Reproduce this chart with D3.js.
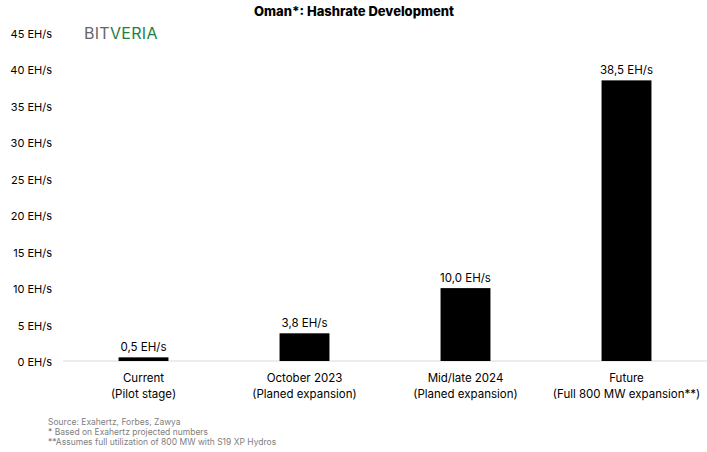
<!DOCTYPE html>
<html>
<head>
<meta charset="utf-8">
<script src="https://cdn.jsdelivr.net/npm/d3@7"></script>
<style>
  body { margin: 0; background: #fff; }
  text { font-family: Inter, "Open Sans", sans-serif; }
  .axis path, .axis line { display: none; }
</style>
</head>
<body>
<div id="chart"></div>
<script>
// chart data
let categories = ["Current", "October 2023", "Mid/late 2024", "Future"];
let subLabels = ["(Pilot stage)", "(Planed expansion)", "(Planed expansion)", "(Full 800 MW expansion**)"];
let hashrate = [0.5, 3.8, 10.0, 38.5];
let yTicks = [0, 5, 10, 15, 20, 25, 30, 35, 40, 45];
let notes = ["Source: Exahertz, Forbes, Zawya", "* Based on Exahertz projected numbers", "**Assumes full utilization of 800 MW with S19 XP Hydros"];

let width = 707;
let height = 452;
let padL = 63, padR = 707, padT = 33, padB = 361;

let svg = d3.select("#chart").append("svg")
  .attr("width", width)
  .attr("height", height);

let xScale = d3.scaleBand()
  .domain(categories)
  .range([padL, padR])
  .paddingInner(0.69)
  .paddingOuter(0.345);

let yScale = d3.scaleLinear()
  .domain([0, 45])
  .range([padB, padT]);

let yAxis = d3.axisLeft(yScale)
  .tickValues(yTicks)
  .tickSize(0)
  .tickPadding(0)
  .tickFormat(d => d + " EH/s");

svg.append("g")
  .attr("class", "axis")
  .attr("transform", "translate(52,1)")
  .call(yAxis)
  .selectAll("text")
  .attr("font-family", "Inter, 'Open Sans', sans-serif")
  .attr("font-size", 11)
  .attr("fill", "#000");

// baseline
svg.append("line")
  .attr("x1", padL).attr("x2", padR)
  .attr("y1", yScale(0)).attr("y2", yScale(0))
  .attr("stroke", "#d9d9d9")
  .attr("stroke-width", 1);

svg.selectAll("rect.bar")
  .data(hashrate)
  .enter()
  .append("rect")
  .attr("class", "bar")
  .attr("x", (d, i) => xScale(categories[i]))
  .attr("y", d => yScale(d))
  .attr("width", xScale.bandwidth())
  .attr("height", d => yScale(0) - yScale(d))
  .attr("fill", "#000");

svg.selectAll("text.val")
  .data(hashrate)
  .enter()
  .append("text")
  .attr("class", "val")
  .attr("x", (d, i) => xScale(categories[i]) + xScale.bandwidth() / 2)
  .attr("y", d => yScale(d) - 6)
  .attr("text-anchor", "middle")
  .attr("font-size", 11.5)
  .text(d => d.toFixed(1).replace(".", ",") + " EH/s");

let cat = svg.selectAll("text.cat")
  .data(categories)
  .enter()
  .append("text")
  .attr("class", "cat")
  .attr("text-anchor", "middle")
  .attr("font-size", 11.5)
  .attr("x", d => xScale(d) + xScale.bandwidth() / 2)
  .attr("y", 382);
cat.append("tspan").text(d => d);
cat.append("tspan")
  .attr("x", d => xScale(d) + xScale.bandwidth() / 2)
  .attr("dy", 15.5)
  .text((d, i) => subLabels[i]);

// title
svg.append("text")
  .attr("x", 354)
  .attr("y", 16)
  .attr("text-anchor", "middle")
  .attr("font-size", 13)
  .attr("font-weight", "800")
  .text("Oman*: Hashrate Development");

// logo
let logo = svg.append("text")
  .attr("x", 84)
  .attr("y", 39)
  .attr("font-size", 16)
  .attr("letter-spacing", "0.3px");
logo.append("tspan").attr("fill", "#666").text("BIT");
logo.append("tspan").attr("fill", "#1e8040").text("VERIA");

svg.selectAll("text.note")
  .data(notes)
  .enter()
  .append("text")
  .attr("class", "note")
  .attr("x", 48)
  .attr("y", (d, i) => 425 + i * 10)
  .attr("font-size", 8.5)
  .attr("fill", "#808080")
  .text(d => d);
</script>
</body>
</html>
